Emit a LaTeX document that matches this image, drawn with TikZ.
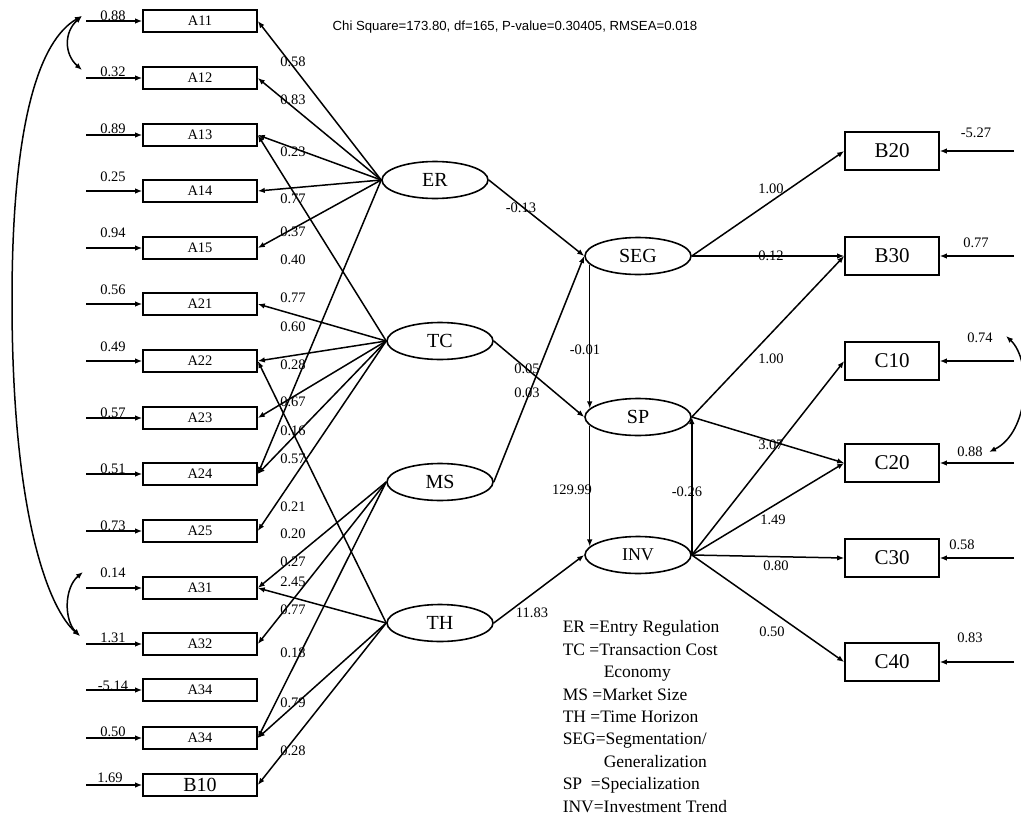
\documentclass[tikz,border=0pt]{standalone}
\usepackage{fontspec}
\setmainfont{Liberation Serif}
\newfontfamily\titlefont{Liberation Sans}
\usetikzlibrary{shapes.geometric,arrows.meta}

\begin{document}
\begin{tikzpicture}[
        x=1pt, y=-1pt, % one unit per pixel of the scan
        >={Latex[length=7pt,width=5.5pt]},
        line width=1.5pt,
        ind/.style={rectangle, draw=black, line width=1.6pt, minimum width=114pt, minimum height=22pt, inner sep=0pt, font=\fontsize{14.5}{14.5}\selectfont},
        obs/.style={rectangle, draw=black, line width=1.6pt, minimum width=94pt, minimum height=38pt, inner sep=0pt, font=\fontsize{21}{21}\selectfont},
        lat/.style={ellipse, draw=black, line width=1.6pt, minimum width=106pt, minimum height=37pt, inner sep=0pt, font=\fontsize{20}{20}\selectfont},
        coef/.style={inner sep=0pt, font=\fontsize{14.5}{14.5}\selectfont},
        load/.style={->}
    ]
    \useasboundingbox (0,0) rectangle (1021,817);

    % Fit statistics
    \node[font=\titlefont\fontsize{13.2}{13.2}\selectfont] (fit) at (515,27) {Chi Square=173.80, df=165, P-value=0.30405, RMSEA=0.018};

    % Left indicators with error terms
    \foreach \n/\txt/\y/\err/\ey in {A11/A11/21/0.88/16, A12/A12/78/0.32/72, A13/A13/135/0.89/129, A14/A14/191/0.25/177, A15/A15/248/0.94/233, A21/A21/304/0.56/290, A22/A22/361/0.49/347, A23/A23/418/0.57/413, A24/A24/474/0.51/469, A25/A25/531/0.73/526, A31/A31/588/0.14/573, A32/A32/644/1.31/638, A34a/A34/690/-5.14/686, A34b/A34/738/0.50/732} {
        \node[ind] (\n) at (200,\y) {\txt};
        \coordinate (e\n) at (86,\y);
        \draw[->] (e\n) -- (\n.west);
        \node[coef] (v\n) at (113,\ey) {\err};
    }
    \node[ind, font=\fontsize{20}{20}\selectfont] (B10) at (200,785) {B10};
    \coordinate (eB10) at (86,785);
    \draw[->] (eB10) -- (B10.west);
    \node[coef] (vB10) at (110,778) {1.69};

    % Correlated errors (left)
    \coordinate (k11) at (82,16);
    \coordinate (k12) at (82,70);
    \coordinate (k31) at (83,572);
    \coordinate (k32) at (80,636);
    \draw[<->] (k11) .. controls (64,32) and (64,54) .. (k12);
    \draw[<->] (k31) .. controls (64,588) and (64,620) .. (k32);
    \draw[<->] (k11) .. controls (40,40) and (12,120) .. (12,300) .. controls (12,520) and (50,610) .. (k32);

    % Latent variables
    \node[lat] (ER) at (435,180) {ER};
    \node[lat] (TC) at (440,341) {TC};
    \node[lat] (MS) at (440,482) {MS};
    \node[lat] (TH) at (440,623) {TH};
    \node[lat] (SEG) at (638,256) {SEG};
    \node[lat] (SP) at (638,417) {SP};
    \node[lat, font=\fontsize{18}{18}\selectfont] (INV) at (638,555) {INV};

    % Loadings
    \foreach \l/\n in {ER/A11, ER/A12, ER/A13, ER/A14, ER/A15, ER/A24, TC/A13, TC/A21, TC/A22, TC/A23, TC/A24, TC/A25, MS/A31, MS/A32, MS/A34b, TH/A22, TH/A31, TH/A34b, TH/B10}
        \draw[load] (\l.west) -- (\n.east);
    \foreach \v/\y [count=\i] in {0.58/62, 0.83/100, 0.23/152, 0.77/199, 0.37/232, 0.40/260, 0.77/298, 0.60/327, 0.28/365, 0.67/402, 0.16/431, 0.57/459, 0.21/507, 0.20/534, 0.27/562, 2.45/582, 0.77/610, 0.18/653, 0.79/703, 0.28/751}
        \node[coef] (w\i) at (293,\y) {\v};

    % Structural paths
    \draw[load] (ER.east) -- (SEG.west);
    \draw[load] (MS.east) -- (SEG.west);
    \draw[load] (TC.east) -- (SP.west);
    \draw[load] (TH.east) -- (INV.west);
    \draw[load] (SEG.190) -- (SEG.190 |- SP.170);
    \draw[load] (SP.190) -- (SP.190 |- INV.170);
    \draw[load] (INV.east) -- (SP.east);
    \node[coef] (s1) at (521,208) {-0.13};
    \node[coef] (s2) at (585,350) {-0.01};
    \node[coef] (s3) at (527,369) {0.05};
    \node[coef] (s4) at (527,393) {0.03};
    \node[coef] (s5) at (572,490) {129.99};
    \node[coef] (s6) at (687,492) {-0.26};
    \node[coef] (s7) at (532,613) {11.83};

    % Right indicators with error terms
    \foreach \n/\y/\err/\ex/\ey in {B20/151/-5.27/976/133, B30/256/0.77/976/243, C10/361/0.74/980/338, C20/463/0.88/970/452, C30/558/0.58/962/545, C40/662/0.83/970/638} {
        \node[obs] (\n) at (892,\y) {\n};
        \coordinate (e\n) at (1014,\y);
        \draw[->] (e\n) -- (\n.east);
        \node[coef] (v\n) at (\ex,\ey) {\err};
    }
    \coordinate (k10) at (1006,336);
    \coordinate (k20) at (989,452);
    \draw[<->] (k10) .. controls (1032,360) and (1030,432) .. (k20);

    \draw[load] (SEG.east) -- (B20.west);
    \draw[load] (SEG.east) -- (B30.west);
    \draw[load] (SP.east) -- (B30.west);
    \draw[load] (SP.east) -- (C20.west);
    \draw[load] (INV.east) -- (C10.west);
    \draw[load] (INV.east) -- (C20.west);
    \draw[load] (INV.east) -- (C30.west);
    \draw[load] (INV.east) -- (C40.west);
    \node[coef] (r1) at (771,189) {1.00};
    \node[coef] (r2) at (771,256) {0.12};
    \node[coef] (r3) at (771,359) {1.00};
    \node[coef] (r4) at (771,445) {3.07};
    \node[coef] (r5) at (773,520) {1.49};
    \node[coef] (r6) at (776,566) {0.80};
    \node[coef] (r7) at (772,632) {0.50};

    % Key
    \node[anchor=north west, align=left, inner sep=0pt, font=\fontsize{17.5}{22.4}\selectfont] (key) at (562,620) {ER =Entry Regulation\\ TC =Transaction Cost\\ \hspace*{41pt}Economy\\ MS =Market Size\\ TH =Time Horizon\\ SEG=Segmentation/\\ \hspace*{41pt}Generalization\\ SP \ =Specialization\\ INV=Investment Trend};

\end{tikzpicture}
\end{document}
